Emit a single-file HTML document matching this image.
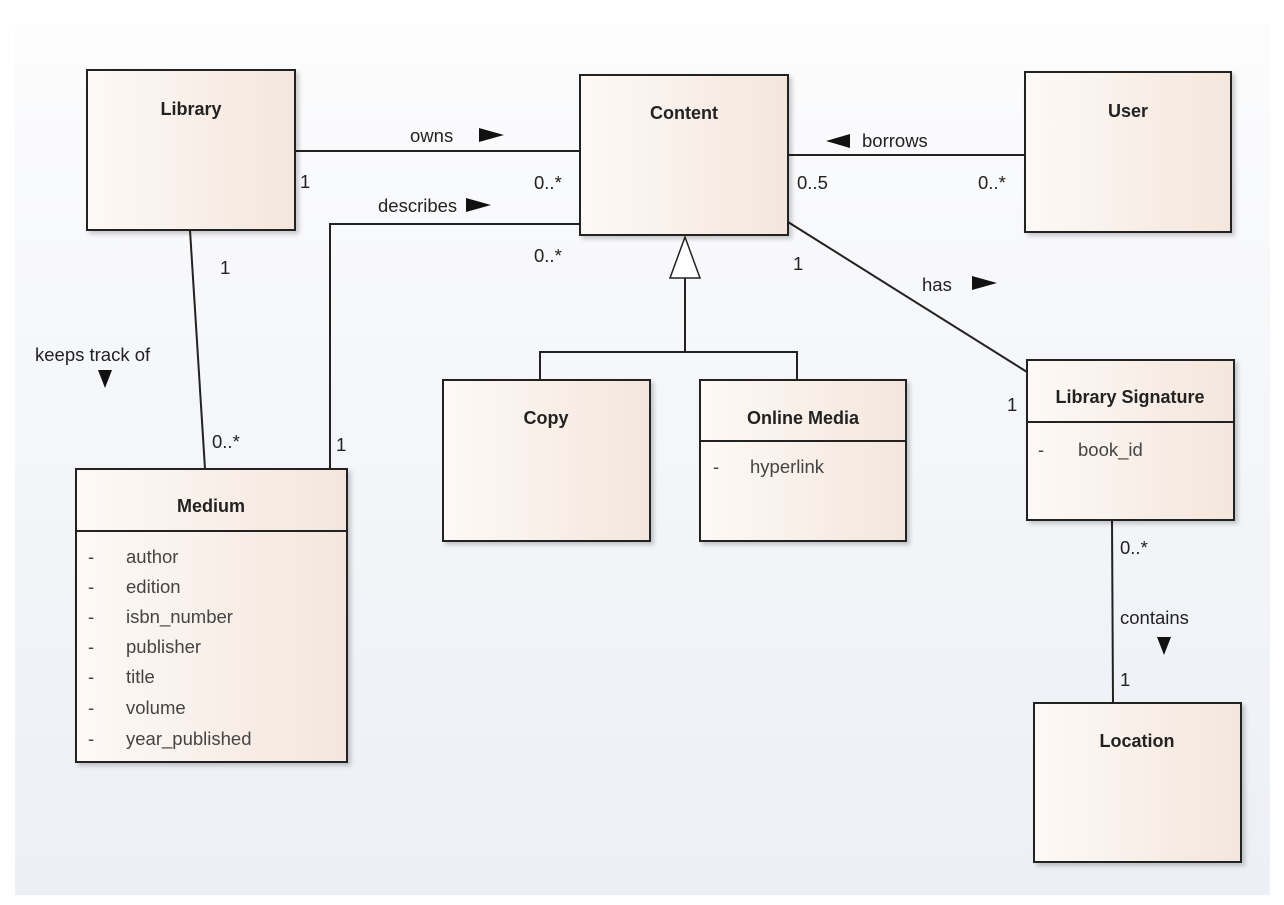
<!DOCTYPE html>
<html><head><meta charset="utf-8"><style>
body{margin:0;background:#fff;}
svg{display:block;}
text{font-family:"Liberation Sans",sans-serif;font-size:18.5px;fill:#222;}
.b{font-weight:bold;font-size:18px;}
.a{fill:#444;}
</style></head><body>
<svg width="1284" height="905" viewBox="0 0 1284 905">
<defs>
<linearGradient id="bg" x1="0" y1="0" x2="0" y2="1"><stop offset="0" stop-color="#fcfcfd"/><stop offset="1" stop-color="#eceff5"/></linearGradient>
<linearGradient id="bx" x1="0" y1="0" x2="1" y2="0"><stop offset="0" stop-color="#fdf9f6"/><stop offset="1" stop-color="#f4e6dc"/></linearGradient>
<filter id="sh"><feDropShadow dx="3" dy="3" stdDeviation="2" flood-color="#000" flood-opacity="0.2"/></filter>
</defs>
<rect x="15" y="25" width="1255" height="870" fill="url(#bg)"/>
<g stroke="#222" stroke-width="2" fill="none">
<line x1="295" y1="151" x2="580" y2="151"/>
<polyline points="580,224 330,224 330,469"/>
<line x1="190" y1="230" x2="205" y2="469"/>
<line x1="788" y1="155" x2="1025" y2="155"/>
<line x1="788" y1="222" x2="1027" y2="372"/>
<polyline points="540,380 540,352 797,352 797,380"/>
<line x1="685" y1="278" x2="685" y2="352"/>
<line x1="1112" y1="520" x2="1113" y2="703"/>
</g>
<polygon points="685,237 670,278 700,278" fill="#fff" stroke="#222" stroke-width="1.5"/>
<g fill="url(#bx)" stroke="#222" stroke-width="2" filter="url(#sh)">
<rect x="87" y="70" width="208" height="160"/>
<rect x="580" y="75" width="208" height="160"/>
<rect x="1025" y="72" width="206" height="160"/>
<rect x="443" y="380" width="207" height="161"/>
<rect x="700" y="380" width="206" height="161"/>
<rect x="1027" y="360" width="207" height="160"/>
<rect x="76" y="469" width="271" height="293"/>
<rect x="1034" y="703" width="207" height="159"/>
</g>
<g stroke="#222" stroke-width="2">
<line x1="700" y1="441" x2="906" y2="441"/>
<line x1="1027" y1="422" x2="1234" y2="422"/>
<line x1="76" y1="531" x2="347" y2="531"/>
</g>
<g text-anchor="middle">
<text class="b" x="191" y="115">Library</text>
<text class="b" x="684" y="119">Content</text>
<text class="b" x="1128" y="117">User</text>
<text class="b" x="546" y="424">Copy</text>
<text class="b" x="803" y="424">Online Media</text>
<text class="b" x="1130" y="403">Library Signature</text>
<text class="b" x="211" y="512">Medium</text>
<text class="b" x="1137" y="747">Location</text>
</g>
<g>
<text class="a" x="713" y="473">-</text><text class="a" x="750" y="473">hyperlink</text>
<text class="a" x="1038" y="456">-</text><text class="a" x="1078" y="456">book_id</text>
<text class="a" x="88" y="563">-</text><text class="a" x="126" y="563">author</text>
<text class="a" x="88" y="593">-</text><text class="a" x="126" y="593">edition</text>
<text class="a" x="88" y="623">-</text><text class="a" x="126" y="623">isbn_number</text>
<text class="a" x="88" y="653">-</text><text class="a" x="126" y="653">publisher</text>
<text class="a" x="88" y="683">-</text><text class="a" x="126" y="683">title</text>
<text class="a" x="88" y="714">-</text><text class="a" x="126" y="714">volume</text>
<text class="a" x="88" y="745">-</text><text class="a" x="126" y="745">year_published</text>
</g>
<text x="410" y="142">owns</text><polygon points="479,128 479,142 504,135" fill="#111"/>
<text x="378" y="212">describes</text><polygon points="466,198 466,212 491,205" fill="#111"/>
<polygon points="850,134 850,148 826,141" fill="#111"/><text x="862" y="147">borrows</text>
<text x="922" y="291">has</text><polygon points="972,276 972,290 997,283" fill="#111"/>
<text x="35" y="361">keeps track of</text><polygon points="98,370 112,370 105,388" fill="#111"/>
<text x="1120" y="624">contains</text><polygon points="1157,637 1171,637 1164,655" fill="#111"/>
<text x="300" y="188">1</text>
<text x="534" y="189">0..*</text>
<text x="534" y="262">0..*</text>
<text x="797" y="189">0..5</text>
<text x="978" y="189">0..*</text>
<text x="220" y="274">1</text>
<text x="212" y="448">0..*</text>
<text x="336" y="451">1</text>
<text x="793" y="270">1</text>
<text x="1007" y="411">1</text>
<text x="1120" y="554">0..*</text>
<text x="1120" y="686">1</text>
</svg>
</body></html>
